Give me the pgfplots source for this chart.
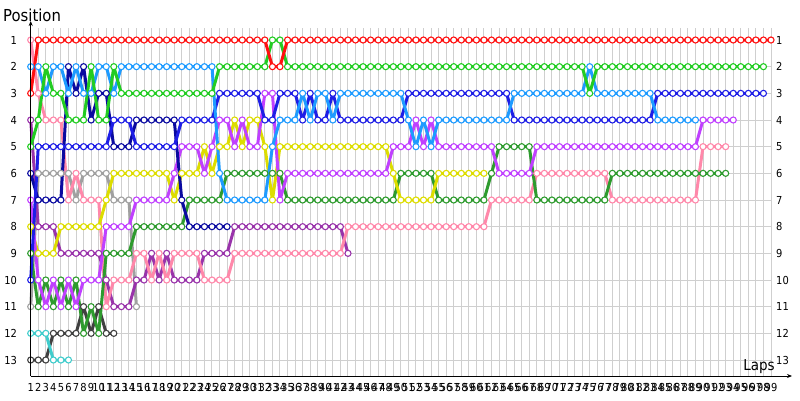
\documentclass[border=0pt]{standalone}
\usepackage{fontspec}
\setmainfont{DejaVu Sans Condensed}
\usepackage{pgfplots}
\usepackage{pgfplotstable}
\pgfplotsset{compat=1.18}
\usetikzlibrary{arrows.meta}
\definecolor{cR}{HTML}{FF1010}
\definecolor{cG}{HTML}{22CC22}
\definecolor{cB}{HTML}{1E1EE6}
\definecolor{cN}{HTML}{0A0AA0}
\definecolor{cL}{HTML}{1E9BFF}
\definecolor{cV}{HTML}{C040FF}
\definecolor{cY}{HTML}{DDDD00}
\definecolor{cD}{HTML}{2E9B2E}
\definecolor{cP}{HTML}{FF88AA}
\definecolor{cGy}{HTML}{A0A0A0}
\definecolor{cPl}{HTML}{9933AA}
\definecolor{cK}{HTML}{404040}
\definecolor{cC}{HTML}{40CCCC}
\definecolor{gridc}{HTML}{CFCFCF}

\pgfplotstableread[row sep=\\]{x y\\1 3\\2 1\\3 1\\4 1\\5 1\\6 1\\7 1\\8 1\\9 1\\10 1\\11 1\\12 1\\13 1\\14 1\\15 1\\16 1\\17 1\\18 1\\19 1\\20 1\\21 1\\22 1\\23 1\\24 1\\25 1\\26 1\\27 1\\28 1\\29 1\\30 1\\31 1\\32 1\\33 2\\34 2\\35 1\\36 1\\37 1\\38 1\\39 1\\40 1\\41 1\\42 1\\43 1\\44 1\\45 1\\46 1\\47 1\\48 1\\49 1\\50 1\\51 1\\52 1\\53 1\\54 1\\55 1\\56 1\\57 1\\58 1\\59 1\\60 1\\61 1\\62 1\\63 1\\64 1\\65 1\\66 1\\67 1\\68 1\\69 1\\70 1\\71 1\\72 1\\73 1\\74 1\\75 1\\76 1\\77 1\\78 1\\79 1\\80 1\\81 1\\82 1\\83 1\\84 1\\85 1\\86 1\\87 1\\88 1\\89 1\\90 1\\91 1\\92 1\\93 1\\94 1\\95 1\\96 1\\97 1\\98 1\\99 1\\}\tR

\pgfplotstableread[row sep=\\]{x y\\1 5\\2 4\\3 2\\4 3\\5 3\\6 4\\7 4\\8 4\\9 2\\10 4\\11 4\\12 2\\13 3\\14 3\\15 3\\16 3\\17 3\\18 3\\19 3\\20 3\\21 3\\22 3\\23 3\\24 3\\25 3\\26 2\\27 2\\28 2\\29 2\\30 2\\31 2\\32 2\\33 1\\34 1\\35 2\\36 2\\37 2\\38 2\\39 2\\40 2\\41 2\\42 2\\43 2\\44 2\\45 2\\46 2\\47 2\\48 2\\49 2\\50 2\\51 2\\52 2\\53 2\\54 2\\55 2\\56 2\\57 2\\58 2\\59 2\\60 2\\61 2\\62 2\\63 2\\64 2\\65 2\\66 2\\67 2\\68 2\\69 2\\70 2\\71 2\\72 2\\73 2\\74 2\\75 3\\76 2\\77 2\\78 2\\79 2\\80 2\\81 2\\82 2\\83 2\\84 2\\85 2\\86 2\\87 2\\88 2\\89 2\\90 2\\91 2\\92 2\\93 2\\94 2\\95 2\\96 2\\97 2\\98 2\\}\tG

\pgfplotstableread[row sep=\\]{x y\\1 2\\2 2\\3 3\\4 2\\5 2\\6 3\\7 2\\8 3\\9 3\\10 2\\11 2\\12 3\\13 2\\14 2\\15 2\\16 2\\17 2\\18 2\\19 2\\20 2\\21 2\\22 2\\23 2\\24 2\\25 2\\26 6\\27 7\\28 7\\29 7\\30 7\\31 7\\32 7\\33 5\\34 4\\35 4\\36 4\\37 3\\38 4\\39 3\\40 3\\41 4\\42 3\\43 3\\44 3\\45 3\\46 3\\47 3\\48 3\\49 3\\50 3\\51 4\\52 5\\53 4\\54 5\\55 4\\56 4\\57 4\\58 4\\59 4\\60 4\\61 4\\62 4\\63 4\\64 4\\65 3\\66 3\\67 3\\68 3\\69 3\\70 3\\71 3\\72 3\\73 3\\74 3\\75 2\\76 3\\77 3\\78 3\\79 3\\80 3\\81 3\\82 3\\83 3\\84 4\\85 4\\86 4\\87 4\\88 4\\89 4\\}\tL

\pgfplotstableread[row sep=\\]{x y\\1 6\\2 7\\3 7\\4 7\\5 7\\6 2\\7 3\\8 2\\9 4\\10 3\\11 3\\12 5\\13 5\\14 5\\15 4\\16 4\\17 4\\18 4\\19 4\\20 4\\21 7\\22 8\\23 8\\24 8\\25 8\\26 8\\27 8\\}\tN

\pgfplotstableread[row sep=\\]{x y\\1 10\\2 5\\3 5\\4 5\\5 5\\6 5\\7 5\\8 5\\9 5\\10 5\\11 5\\12 4\\13 4\\14 4\\15 5\\16 5\\17 5\\18 5\\19 5\\20 5\\21 4\\22 4\\23 4\\24 4\\25 4\\26 3\\27 3\\28 3\\29 3\\30 3\\31 3\\32 4\\33 4\\34 3\\35 3\\36 3\\37 4\\38 3\\39 4\\40 4\\41 3\\42 4\\43 4\\44 4\\45 4\\46 4\\47 4\\48 4\\49 4\\50 4\\51 3\\52 3\\53 3\\54 3\\55 3\\56 3\\57 3\\58 3\\59 3\\60 3\\61 3\\62 3\\63 3\\64 3\\65 4\\66 4\\67 4\\68 4\\69 4\\70 4\\71 4\\72 4\\73 4\\74 4\\75 4\\76 4\\77 4\\78 4\\79 4\\80 4\\81 4\\82 4\\83 4\\84 3\\85 3\\86 3\\87 3\\88 3\\89 3\\90 3\\91 3\\92 3\\93 3\\94 3\\95 3\\96 3\\97 3\\98 3\\}\tB

\pgfplotstableread[row sep=\\]{x y\\1 7\\2 10\\3 11\\4 10\\5 11\\6 10\\7 11\\8 10\\9 10\\10 10\\11 8\\12 8\\13 8\\14 8\\15 7\\16 7\\17 7\\18 7\\19 7\\20 6\\21 5\\22 5\\23 5\\24 6\\25 5\\26 4\\27 4\\28 5\\29 4\\30 5\\31 5\\32 3\\33 3\\34 7\\35 6\\36 6\\37 6\\38 6\\39 6\\40 6\\41 6\\42 6\\43 6\\44 6\\45 6\\46 6\\47 6\\48 6\\49 5\\50 5\\51 5\\52 4\\53 5\\54 4\\55 5\\56 5\\57 5\\58 5\\59 5\\60 5\\61 5\\62 5\\63 6\\64 6\\65 6\\66 6\\67 6\\68 5\\69 5\\70 5\\71 5\\72 5\\73 5\\74 5\\75 5\\76 5\\77 5\\78 5\\79 5\\80 5\\81 5\\82 5\\83 5\\84 5\\85 5\\86 5\\87 5\\88 5\\89 5\\90 4\\91 4\\92 4\\93 4\\94 4\\}\tV

\pgfplotstableread[row sep=\\]{x y\\1 8\\2 9\\3 9\\4 9\\5 8\\6 8\\7 8\\8 8\\9 8\\10 8\\11 7\\12 6\\13 6\\14 6\\15 6\\16 6\\17 6\\18 6\\19 6\\20 7\\21 6\\22 6\\23 6\\24 5\\25 6\\26 5\\27 5\\28 4\\29 5\\30 4\\31 4\\32 5\\33 7\\34 5\\35 5\\36 5\\37 5\\38 5\\39 5\\40 5\\41 5\\42 5\\43 5\\44 5\\45 5\\46 5\\47 5\\48 5\\49 6\\50 7\\51 7\\52 7\\53 7\\54 7\\55 6\\56 6\\57 6\\58 6\\59 6\\60 6\\61 6\\}\tY

\pgfplotstableread[row sep=\\]{x y\\1 9\\2 11\\3 10\\4 11\\5 10\\6 11\\7 10\\8 12\\9 11\\10 12\\11 9\\12 9\\13 9\\14 9\\15 8\\16 8\\17 8\\18 8\\19 8\\20 8\\21 8\\22 7\\23 7\\24 7\\25 7\\26 7\\27 6\\28 6\\29 6\\30 6\\31 6\\32 6\\33 6\\34 6\\35 7\\36 7\\37 7\\38 7\\39 7\\40 7\\41 7\\42 7\\43 7\\44 7\\45 7\\46 7\\47 7\\48 7\\49 7\\50 6\\51 6\\52 6\\53 6\\54 6\\55 7\\56 7\\57 7\\58 7\\59 7\\60 7\\61 7\\62 6\\63 5\\64 5\\65 5\\66 5\\67 5\\68 7\\69 7\\70 7\\71 7\\72 7\\73 7\\74 7\\75 7\\76 7\\77 7\\78 6\\79 6\\80 6\\81 6\\82 6\\83 6\\84 6\\85 6\\86 6\\87 6\\88 6\\89 6\\90 6\\91 6\\92 6\\93 6\\}\tD

\pgfplotstableread[row sep=\\]{x y\\1 1\\2 3\\3 4\\4 4\\5 4\\6 7\\7 6\\8 7\\9 7\\10 7\\11 11\\12 10\\13 10\\14 10\\15 9\\16 9\\17 10\\18 9\\19 10\\20 9\\21 9\\22 9\\23 9\\24 10\\25 10\\26 10\\27 10\\28 9\\29 9\\30 9\\31 9\\32 9\\33 9\\34 9\\35 9\\36 9\\37 9\\38 9\\39 9\\40 9\\41 9\\42 9\\43 8\\44 8\\45 8\\46 8\\47 8\\48 8\\49 8\\50 8\\51 8\\52 8\\53 8\\54 8\\55 8\\56 8\\57 8\\58 8\\59 8\\60 8\\61 8\\62 7\\63 7\\64 7\\65 7\\66 7\\67 7\\68 6\\69 6\\70 6\\71 6\\72 6\\73 6\\74 6\\75 6\\76 6\\77 6\\78 7\\79 7\\80 7\\81 7\\82 7\\83 7\\84 7\\85 7\\86 7\\87 7\\88 7\\89 7\\90 5\\91 5\\92 5\\93 5\\}\tP

\pgfplotstableread[row sep=\\]{x y\\1 4\\2 8\\3 8\\4 8\\5 9\\6 9\\7 9\\8 9\\9 9\\10 9\\11 10\\12 11\\13 11\\14 11\\15 10\\16 10\\17 9\\18 10\\19 9\\20 10\\21 10\\22 10\\23 10\\24 9\\25 9\\26 9\\27 9\\28 8\\29 8\\30 8\\31 8\\32 8\\33 8\\34 8\\35 8\\36 8\\37 8\\38 8\\39 8\\40 8\\41 8\\42 8\\43 9\\}\tPl

\pgfplotstableread[row sep=\\]{x y\\1 11\\2 6\\3 6\\4 6\\5 6\\6 6\\7 7\\8 6\\9 6\\10 6\\11 6\\12 7\\13 7\\14 7\\15 11\\}\tGy
\pgfplotstableread[row sep=\\]{x y\\1 12\\2 12\\3 12\\4 13\\5 13\\6 13\\}\tC
\pgfplotstableread[row sep=\\]{x y\\1 13\\2 13\\3 13\\4 12\\5 12\\6 12\\7 12\\8 11\\9 12\\10 11\\11 12\\12 12\\}\tK

\newcommand\drv[2]{\addplot[draw=#2, line width=3pt, mark=none, line join=round] table[x=x,y=y]{#1};}
\newcommand\mrk[2]{\addplot[only marks, mark=*, mark size=3.05pt, mark options={draw=#2, fill=white, line width=1.1pt}] table[x=x,y=y]{#1};}

\begin{document}
\begin{tikzpicture}[x=1pt,y=1pt]
\useasboundingbox (0,0) rectangle (800,400);
\begin{axis}[
  at={(30.7pt,24pt)}, anchor=south west,
  scale only axis, width=740.3pt, height=348pt,
  xmin=1, xmax=99, ymin=0.55, ymax=13.6, y dir=reverse,
  clip=false, separate axis lines,
  axis line style={draw=none},
  xtick={1,...,99}, ytick={1,...,13},
  grid=major, major grid style={draw=gridc, line width=1pt},
  tick style={draw=none},
  /pgf/number format/assume math mode=true,
  ticklabel style={font=\fontsize{11}{12}\selectfont},
  xticklabel style={inner sep=0pt, yshift=-7pt},
  yticklabel style={anchor=east, inner sep=0pt, xshift=-13.5pt},
]
\drv{\tK}{cK}
\drv{\tC}{cC}
\drv{\tGy}{cGy}
\drv{\tPl}{cPl}
\drv{\tP}{cP}
\drv{\tD}{cD}
\drv{\tY}{cY}
\drv{\tV}{cV}
\drv{\tN}{cN}
\drv{\tB}{cB}
\drv{\tL}{cL}
\drv{\tG}{cG}
\drv{\tR}{cR}
\mrk{\tK}{cK}
\mrk{\tC}{cC}
\mrk{\tGy}{cGy}
\mrk{\tPl}{cPl}
\mrk{\tP}{cP}
\mrk{\tD}{cD}
\mrk{\tY}{cY}
\mrk{\tV}{cV}
\mrk{\tN}{cN}
\mrk{\tB}{cB}
\mrk{\tL}{cL}
\mrk{\tG}{cG}
\mrk{\tR}{cR}
\end{axis}
\begin{axis}[
  at={(30.7pt,24pt)}, anchor=south west,
  scale only axis, width=740.3pt, height=348pt,
  xmin=1, xmax=99, ymin=0.55, ymax=13.6, y dir=reverse,
  hide x axis, axis y line*=right, axis line style={draw=none},
  ytick={1,...,13}, tick style={draw=none},
  /pgf/number format/assume math mode=true,
  ticklabel style={font=\fontsize{11}{12}\selectfont},
  yticklabel style={anchor=west, inner sep=0pt, xshift=5pt},
]
\end{axis}
\draw[line width=1pt, -{Stealth[length=5pt,width=4pt]}] (30.7,24) -- (30.7,379);
\draw[line width=1pt, -{Stealth[length=5pt,width=4pt]}] (30.7,24) -- (792,24);
\node[anchor=west, inner sep=0pt, font=\fontsize{16.5}{18}\selectfont] at (3,385) {Position};
\node[anchor=center, inner sep=0pt, font=\fontsize{15}{16}\selectfont] at (759,33) {Laps};
\end{tikzpicture}
\end{document}
